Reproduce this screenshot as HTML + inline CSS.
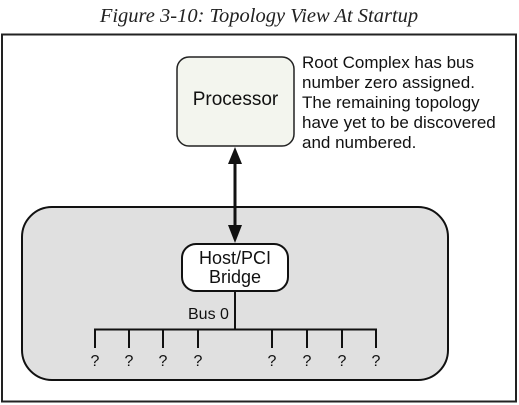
<!DOCTYPE html>
<html><head><style>
html,body{margin:0;padding:0;background:#fff;width:519px;height:405px;overflow:hidden}
svg text{font-family:"Liberation Sans",sans-serif}
</style></head><body>
<svg width="519" height="405" viewBox="0 0 519 405" xmlns="http://www.w3.org/2000/svg">
<text x="259" y="22" text-anchor="middle" style="font-family:'Liberation Serif',serif;font-style:italic" font-size="20.5" fill="#222">Figure 3-10: Topology View At Startup</text>
<rect x="2" y="34.5" width="514" height="367" fill="#fff" stroke="#222" stroke-width="2"/>
<rect x="177" y="57" width="117" height="89" rx="12" fill="#f3f5ee" stroke="#222" stroke-width="1.5"/>
<text x="235.5" y="105" text-anchor="middle" font-size="19" fill="#111">Processor</text>
<g font-size="17" fill="#111">
<text x="302" y="68">Root Complex has bus</text>
<text x="302" y="88">number zero assigned.</text>
<text x="302" y="108">The remaining topology</text>
<text x="302" y="128">have yet to be discovered</text>
<text x="302" y="148">and numbered.</text>
</g>
<rect x="22" y="207" width="426" height="173" rx="30" fill="#e0e0e0" stroke="#111" stroke-width="2"/>
<line x1="235" y1="160" x2="235" y2="230" stroke="#111" stroke-width="3"/>
<polygon points="235,147 228,164 242,164" fill="#111"/>
<polygon points="235,243 228,225 242,225" fill="#111"/>
<rect x="182" y="244" width="106" height="47" rx="14" fill="#fff" stroke="#111" stroke-width="2"/>
<text x="235" y="264" text-anchor="middle" font-size="18" fill="#111">Host/PCI</text>
<text x="235" y="283" text-anchor="middle" font-size="18" fill="#111">Bridge</text>
<line x1="235" y1="291" x2="235" y2="330" stroke="#111" stroke-width="2"/>
<text x="188" y="319" font-size="16" fill="#111">Bus 0</text>
<line x1="94" y1="329.5" x2="377" y2="329.5" stroke="#111" stroke-width="2"/>
<g stroke="#111" stroke-width="2">
<line x1="95" y1="329" x2="95" y2="348"/><line x1="129" y1="329" x2="129" y2="348"/>
<line x1="163" y1="329" x2="163" y2="348"/><line x1="198" y1="329" x2="198" y2="348"/>
<line x1="272" y1="329" x2="272" y2="348"/><line x1="307" y1="329" x2="307" y2="348"/>
<line x1="342" y1="329" x2="342" y2="348"/><line x1="376" y1="329" x2="376" y2="348"/>
</g>
<g font-size="16" fill="#111" text-anchor="middle">
<text x="95" y="366">?</text><text x="129" y="366">?</text><text x="163" y="366">?</text><text x="198" y="366">?</text>
<text x="272" y="366">?</text><text x="307" y="366">?</text><text x="342" y="366">?</text><text x="376" y="366">?</text>
</g>
</svg>
</body></html>
